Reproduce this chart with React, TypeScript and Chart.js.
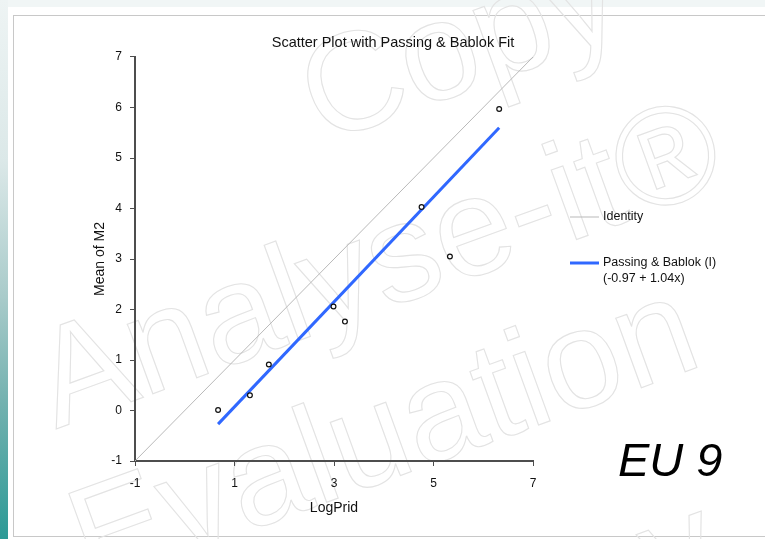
import React, { useEffect, useRef } from "react";
import { Chart, registerables } from "chart.js";

Chart.register(...registerables);

// ---- data ----
const chartTitle = "Scatter Plot with Passing & Bablok Fit";
const xAxisTitle = "LogPrid";
const yAxisTitle = "Mean of M2";
const pointX = [0.67, 1.31, 1.69, 2.99, 3.22, 4.76, 5.33, 6.32];
const pointY = [0.01, 0.3, 0.91, 2.06, 1.76, 4.03, 3.05, 5.97];
const identityX = [-1, 7];
const identityY = [-1, 7];
const fitX = [0.67, 6.32];
const fitY = [-0.27, 5.6];
const identityLegend = ["Identity"];
const fitLegend = ["Passing & Bablok (I)", "(-0.97 + 1.04x)"];
const xTicks = [-1, 1, 3, 5, 7];
const yTicks = [-1, 0, 1, 2, 3, 4, 5, 6, 7];
const badgeText = "EU 9";
const watermarkLines = ["Copy", "Analyse-it®", "Evaluation", "Copy"];

const FONT = "'Liberation Sans', Arial, sans-serif";

const watermarkPlugin = {
  id: "watermark",
  beforeDraw(chart: any) {
    const ctx = chart.ctx;
    const centers = [
      [462, 52],
      [380, 270],
      [385, 440],
      [560, 600],
    ];
    ctx.save();
    ctx.strokeStyle = "#e3e3e3";
    ctx.lineWidth = 1.1;
    ctx.font = `140px ${FONT}`;
    ctx.textAlign = "center";
    ctx.textBaseline = "middle";
    watermarkLines.forEach((t, i) => {
      const [cx, cy] = centers[i];
      ctx.save();
      ctx.translate(cx, cy);
      ctx.rotate((-20 * Math.PI) / 180);
      ctx.strokeText(t, 0, 0);
      ctx.restore();
    });
    ctx.restore();
  },
};

const legendPlugin = {
  id: "customLegend",
  afterDraw(chart: any) {
    const ctx = chart.ctx;
    const area = chart.chartArea;
    const x0 = area.right + 37;
    const x1 = area.right + 66;
    const tx = area.right + 70;
    const rows = [
      { ds: chart.data.datasets[0], y: area.top + 160 },
      { ds: chart.data.datasets[1], y: area.top + 206 },
    ];
    ctx.save();
    ctx.font = `12.5px ${FONT}`;
    ctx.textBaseline = "middle";
    ctx.textAlign = "left";
    rows.forEach(({ ds, y }) => {
      ctx.strokeStyle = ds.borderColor;
      ctx.lineWidth = ds.borderWidth;
      ctx.beginPath();
      ctx.moveTo(x0, y);
      ctx.lineTo(x1, y);
      ctx.stroke();
      ctx.fillStyle = "#111";
      (ds.legendText as string[]).forEach((line: string, i: number) => {
        ctx.fillText(line, tx, y + i * 16);
      });
    });
    // badge
    ctx.font = `italic 47px ${FONT}`;
    ctx.textBaseline = "alphabetic";
    ctx.fillStyle = "#000";
    ctx.fillText(badgeText, area.right + 85, area.bottom + 15);
    ctx.restore();
  },
};

export default function App() {
  const ref = useRef<HTMLCanvasElement | null>(null);

  useEffect(() => {
    if (!ref.current) return;
    const chart = new Chart(ref.current, {
      type: "scatter",
      data: {
        datasets: [
          {
            type: "line",
            label: identityLegend[0],
            legendText: identityLegend,
            data: identityX.map((x, i) => ({ x, y: identityY[i] })),
            borderColor: "#b9b9b9",
            borderWidth: 1,
            pointRadius: 0,
            fill: false,
            order: 3,
          } as any,
          {
            type: "line",
            label: fitLegend[0],
            legendText: fitLegend,
            data: fitX.map((x, i) => ({ x, y: fitY[i] })),
            borderColor: "#3068ff",
            borderWidth: 3,
            pointRadius: 0,
            fill: false,
            order: 2,
          } as any,
          {
            type: "scatter",
            label: "Data",
            data: pointX.map((x, i) => ({ x, y: pointY[i] })),
            pointRadius: 2.4,
            borderWidth: 1.2,
            borderColor: "#111",
            backgroundColor: "#fff",
            order: 1,
          } as any,
        ],
      },
      options: {
        animation: false,
        responsive: false,
        maintainAspectRatio: false,
        layout: { padding: { left: 21, right: 0, top: 0, bottom: 10 } },
        plugins: {
          legend: { display: false },
          tooltip: { enabled: false },
          title: {
            display: true,
            text: chartTitle,
            color: "#111",
            font: { family: FONT, size: 14.5, weight: "normal", lineHeight: 1.2 },
            padding: { top: 34.3, bottom: 5.3 },
          },
        },
        scales: {
          x: {
            type: "linear",
            min: -1,
            max: 7,
            afterBuildTicks: (s: any) => {
              s.ticks = xTicks.map((v) => ({ value: v }));
            },
            afterFit: (s: any) => {
              s.height = 68;
            },
            ticks: {
              color: "#111",
              padding: 10,
              font: { family: FONT, size: 12 },
            },
            grid: {
              drawOnChartArea: false,
              drawTicks: true,
              tickLength: 5,
              color: "#4d4d4d",
              lineWidth: 1,
            },
            border: { display: true, color: "#4d4d4d", width: 2 },
            title: {
              display: true,
              text: xAxisTitle,
              color: "#111",
              font: { family: FONT, size: 14, lineHeight: 1.2 },
              padding: { top: 0, bottom: 12.6 },
            },
          },
          y: {
            type: "linear",
            position: "left",
            min: -1,
            max: 7,
            afterBuildTicks: (s: any) => {
              s.ticks = yTicks.map((v) => ({ value: v }));
            },
            afterFit: (s: any) => {
              s.width = 114;
            },
            ticks: {
              color: "#111",
              padding: 8,
              font: { family: FONT, size: 12 },
            },
            grid: {
              drawOnChartArea: false,
              drawTicks: true,
              tickLength: 5,
              color: "#4d4d4d",
              lineWidth: 1,
            },
            border: { display: true, color: "#4d4d4d", width: 2 },
            title: {
              display: true,
              text: yAxisTitle,
              color: "#111",
              font: { family: FONT, size: 14, lineHeight: 1.2 },
              padding: { top: 70.6, bottom: 0 },
            },
          },
          legendSpace: {
            type: "linear",
            position: "right",
            min: 0,
            max: 1,
            afterFit: (s: any) => {
              s.width = 232;
            },
            ticks: { display: false },
            grid: { display: false, drawOnChartArea: false },
            border: { display: false },
            title: { display: false },
          },
        },
      } as any,
      plugins: [watermarkPlugin, legendPlugin],
    });
    return () => chart.destroy();
  }, []);

  return (
    <div
      style={{
        position: "fixed",
        left: 0,
        top: 0,
        width: 765,
        height: 539,
        overflow: "hidden",
        background: "#ffffff",
      }}
    >
      <div
        style={{
          position: "absolute",
          left: 0,
          top: 0,
          width: 8,
          height: 539,
          background:
            "linear-gradient(to bottom, #eef4f4 0%, #dbe8e8 30%, #a9cbca 55%, #72b1af 75%, #2c9a96 100%)",
        }}
      />
      <div
        style={{
          position: "absolute",
          left: 8,
          top: 0,
          width: 757,
          height: 7,
          background: "#f1f6f6",
        }}
      />
      <div
        style={{
          position: "absolute",
          left: 13,
          top: 15,
          width: 780,
          height: 520,
          border: "1px solid #c8c8c8",
          background: "#fff",
        }}
      />
      <canvas
        ref={ref}
        width={765}
        height={539}
        style={{ position: "absolute", left: 0, top: 0, width: 765, height: 539 }}
      />
    </div>
  );
}
